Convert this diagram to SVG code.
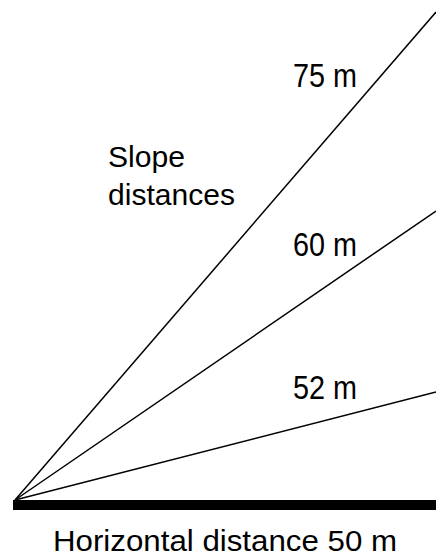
<svg xmlns="http://www.w3.org/2000/svg" width="436" height="556" viewBox="0 0 436 556">
<style>
.t{font-family:"Liberation Sans",Arial,sans-serif;fill:#000}
.s{stroke:#000;stroke-width:1.5;fill:none}
</style>
<rect width="436" height="556" fill="#fff"/>
<g id="connectors">
<line class="s" x1="15" y1="500" x2="436" y2="12"/>
<line class="s" x1="15" y1="500" x2="436" y2="211"/>
<line class="s" x1="15" y1="500" x2="436" y2="392"/>
</g>
<g id="baseline"><rect x="13" y="500" width="423" height="10" fill="#000"/></g>
<g id="label-75"><text class="t" x="293" y="87" font-size="33" textLength="64" lengthAdjust="spacingAndGlyphs">75 m</text></g>
<g id="label-60"><text class="t" x="293" y="256" font-size="33" textLength="64" lengthAdjust="spacingAndGlyphs">60 m</text></g>
<g id="label-52"><text class="t" x="293" y="399" font-size="33" textLength="64" lengthAdjust="spacingAndGlyphs">52 m</text></g>
<g id="label-slope">
<text class="t" x="108" y="167" font-size="29" textLength="77" lengthAdjust="spacingAndGlyphs">Slope</text>
<text class="t" x="108" y="205" font-size="29" textLength="127" lengthAdjust="spacingAndGlyphs">distances</text>
</g>
<g id="label-horizontal"><text class="t" x="53" y="551" font-size="29" textLength="344" lengthAdjust="spacingAndGlyphs">Horizontal distance 50 m</text></g>
</svg>
